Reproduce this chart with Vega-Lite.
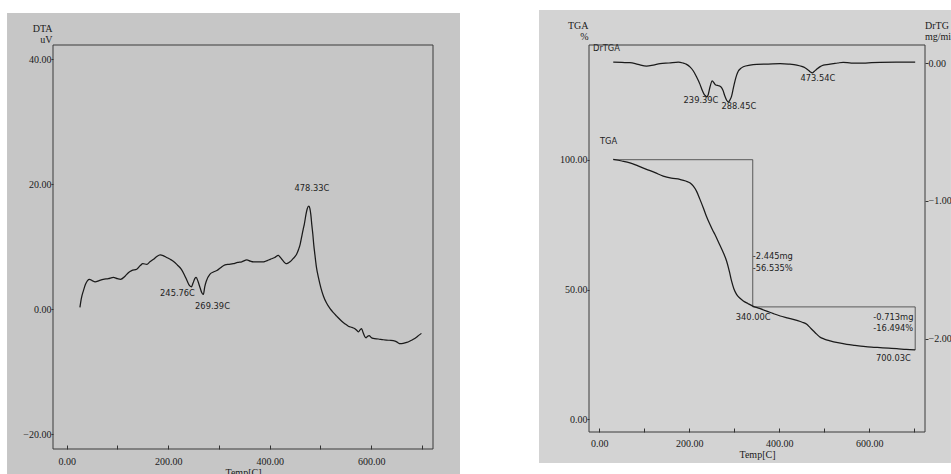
{
  "$schema": "https://vega.github.io/schema/vega-lite/v6.json",
  "background": "white",
  "padding": {"left": 7, "top": 9, "right": 0, "bottom": -3},
  "spacing": 156,
  "bounds": "flush",
  "config": {
    "view": {"stroke": null},
    "axis": {
      "labelFont": "Liberation Serif", "labelFontSize": 10, "labelColor": "#1a1a1a",
      "titleFont": "Liberation Serif", "titleFontSize": 10, "titleFontWeight": "normal", "titleColor": "#1a1a1a",
      "tickColor": "#333333", "domain": false, "grid": false,
      "labelOverlap": false, "labelFlush": false
    },
    "text": {"font": "DejaVu Sans", "fontSize": 8.3, "color": "#1e1e1e"}
  },
  "datasets": {
    "paperL": [{"x1": -117.6, "x2": 775.0, "y1": -26.5, "y2": 47.4}],
    "frameL": [{"x1": -27.0, "x2": 721.8, "y1": -22.35, "y2": 42.29}],
    "paperR": [{"x1": -134, "x2": 781.4, "y1": -16.8, "y2": 157.7}],
    "frameR": [{"x1": -22.9, "x2": 723.8, "y1": -4.89, "y2": 144.18}],
    "dta": [
      {"T":26,"v":0.3},{"T":29,"v":1.8},{"T":33,"v":3.0},{"T":37,"v":4.0},{"T":41,"v":4.6},{"T":45,"v":4.8},{"T":50,"v":4.6},{"T":56,"v":4.4},{"T":64,"v":4.6},{"T":72,"v":4.8},{"T":82,"v":4.9},{"T":92,"v":5.1},{"T":100,"v":4.9},{"T":106,"v":4.8},{"T":115,"v":5.3},{"T":122,"v":5.9},{"T":128,"v":6.2},{"T":138,"v":6.4},{"T":145,"v":7.0},{"T":150,"v":7.3},{"T":158,"v":7.2},{"T":164,"v":7.6},{"T":171,"v":8.0},{"T":177,"v":8.4},{"T":184,"v":8.7},{"T":190,"v":8.6},{"T":197,"v":8.3},{"T":204,"v":8.0},{"T":210,"v":7.7},{"T":218,"v":7.1},{"T":226,"v":6.4},{"T":232,"v":5.5},{"T":237,"v":4.6},{"T":241,"v":3.9},{"T":245.8,"v":3.6},{"T":249,"v":4.2},{"T":253,"v":5.0},{"T":255,"v":5.1},{"T":259,"v":4.4},{"T":263,"v":3.4},{"T":266,"v":2.7},{"T":269.4,"v":2.4},{"T":272,"v":3.6},{"T":275,"v":4.5},{"T":282,"v":5.6},{"T":290,"v":6.0},{"T":296,"v":6.2},{"T":304,"v":6.7},{"T":312,"v":7.1},{"T":320,"v":7.2},{"T":328,"v":7.3},{"T":337,"v":7.5},{"T":345,"v":7.6},{"T":355,"v":7.9},{"T":362,"v":7.7},{"T":368,"v":7.6},{"T":378,"v":7.6},{"T":388,"v":7.6},{"T":395,"v":7.8},{"T":401,"v":8.0},{"T":410,"v":8.3},{"T":417,"v":8.65},{"T":421,"v":8.3},{"T":424,"v":8.0},{"T":428,"v":7.6},{"T":432,"v":7.3},{"T":436,"v":7.4},{"T":440,"v":7.6},{"T":446,"v":8.1},{"T":453,"v":8.8},{"T":457,"v":9.6},{"T":460,"v":10.4},{"T":463,"v":11.6},{"T":466,"v":12.8},{"T":468,"v":13.5},{"T":471.5,"v":15.2},{"T":474,"v":16.1},{"T":477,"v":16.5},{"T":479,"v":16.2},{"T":481,"v":15.2},{"T":483,"v":13.5},{"T":485,"v":12.0},{"T":487,"v":10.2},{"T":489,"v":8.8},{"T":492,"v":6.8},{"T":496,"v":5.1},{"T":501,"v":3.4},{"T":506,"v":2.1},{"T":512,"v":1.0},{"T":519,"v":0.1},{"T":525,"v":-0.5},{"T":532,"v":-1.1},{"T":542,"v":-1.9},{"T":548,"v":-2.3},{"T":555,"v":-2.7},{"T":562,"v":-2.9},{"T":568,"v":-3.1},{"T":572,"v":-3.4},{"T":575,"v":-3.6},{"T":578,"v":-3.3},{"T":581,"v":-3.1},{"T":584,"v":-3.7},{"T":587,"v":-4.3},{"T":590,"v":-4.55},{"T":593,"v":-4.3},{"T":596,"v":-4.2},{"T":600,"v":-4.5},{"T":604,"v":-4.65},{"T":614,"v":-4.75},{"T":624,"v":-4.87},{"T":636,"v":-4.95},{"T":647,"v":-5.08},{"T":652,"v":-5.3},{"T":657,"v":-5.5},{"T":663,"v":-5.45},{"T":670,"v":-5.3},{"T":677,"v":-5.05},{"T":683,"v":-4.8},{"T":691,"v":-4.35},{"T":699,"v":-3.85}
    ],
    "notesL": [
      {"T": 483.3, "v": 19.2, "label": "478.33C"},
      {"T": 218.3, "v": 2.5, "label": "245.76C"},
      {"T": 287.3, "v": 0.42, "label": "269.39C"}
    ],
    "tga": [
      {"T":31,"v":100.1},{"T":50,"v":99.5},{"T":68,"v":98.8},{"T":86,"v":97.6},{"T":105,"v":96.3},{"T":124,"v":95.0},{"T":142,"v":93.7},{"T":160,"v":92.9},{"T":179,"v":92.4},{"T":192,"v":91.8},{"T":202,"v":91.0},{"T":209,"v":89.8},{"T":216,"v":87.9},{"T":223,"v":85.0},{"T":231,"v":81.5},{"T":238,"v":78.2},{"T":246,"v":75.0},{"T":252,"v":72.8},{"T":257,"v":71.2},{"T":265,"v":68.2},{"T":274,"v":64.8},{"T":283,"v":60.9},{"T":289,"v":57.0},{"T":294,"v":53.2},{"T":299,"v":50.3},{"T":305,"v":48.1},{"T":312,"v":46.7},{"T":320,"v":45.6},{"T":330,"v":44.6},{"T":341,"v":43.6},{"T":356,"v":42.7},{"T":372,"v":41.7},{"T":387,"v":40.7},{"T":402,"v":39.8},{"T":420,"v":39.0},{"T":439,"v":38.1},{"T":451,"v":37.4},{"T":461,"v":36.6},{"T":468,"v":35.4},{"T":476,"v":34.0},{"T":483,"v":32.8},{"T":490,"v":31.7},{"T":500,"v":30.9},{"T":513,"v":30.2},{"T":530,"v":29.5},{"T":550,"v":28.9},{"T":568,"v":28.5},{"T":587,"v":28.1},{"T":605,"v":27.8},{"T":624,"v":27.6},{"T":643,"v":27.4},{"T":661,"v":27.2},{"T":682,"v":26.9},{"T":702,"v":26.7}
    ],
    "steps": [
      {"i": 1, "T": 31, "v": 100},
      {"i": 2, "T": 341, "v": 100},
      {"i": 3, "T": 341, "v": 43.3},
      {"i": 4, "T": 702, "v": 43.3},
      {"i": 5, "T": 702, "v": 26.7}
    ],
    "drtga": [
      {"T":31,"d":0.007},{"T":50,"d":0.004},{"T":68,"d":0.002},{"T":86,"d":-0.01},{"T":105,"d":-0.022},{"T":120,"d":-0.015},{"T":135,"d":-0.005},{"T":155,"d":0.0},{"T":175.6,"d":0.007},{"T":186,"d":0.0},{"T":194,"d":-0.01},{"T":202,"d":-0.03},{"T":209,"d":-0.058},{"T":216,"d":-0.1},{"T":223.8,"d":-0.155},{"T":229,"d":-0.2},{"T":233,"d":-0.227},{"T":236,"d":-0.238},{"T":239.4,"d":-0.245},{"T":242,"d":-0.23},{"T":246,"d":-0.174},{"T":251,"d":-0.13},{"T":255,"d":-0.145},{"T":259,"d":-0.16},{"T":265,"d":-0.165},{"T":270,"d":-0.172},{"T":275,"d":-0.2},{"T":279,"d":-0.24},{"T":283,"d":-0.27},{"T":287,"d":-0.283},{"T":290,"d":-0.27},{"T":294,"d":-0.24},{"T":298,"d":-0.18},{"T":301.6,"d":-0.13},{"T":305,"d":-0.09},{"T":309,"d":-0.058},{"T":314,"d":-0.04},{"T":320,"d":-0.027},{"T":335,"d":-0.015},{"T":350,"d":-0.01},{"T":375,"d":-0.008},{"T":402,"d":-0.005},{"T":420,"d":-0.008},{"T":439,"d":-0.015},{"T":450,"d":-0.025},{"T":457,"d":-0.034},{"T":464,"d":-0.05},{"T":469,"d":-0.065},{"T":473.5,"d":-0.072},{"T":478,"d":-0.06},{"T":483,"d":-0.046},{"T":490,"d":-0.028},{"T":498,"d":-0.015},{"T":510,"d":-0.01},{"T":520,"d":-0.005},{"T":530,"d":0.0},{"T":542,"d":0.005},{"T":560,"d":0.0},{"T":587,"d":0.0},{"T":605,"d":0.003},{"T":624,"d":0.005},{"T":660,"d":0.006},{"T":702,"d":0.007}
    ],
    "notesRc": [
      {"T": 226, "v": 122.6, "label": "239.39C"},
      {"T": 310, "v": 120.3, "label": "288.45C"},
      {"T": 485.6, "v": 131.2, "label": "473.54C"},
      {"T": 342, "v": 39.1, "label": "340.00C"},
      {"T": 653.4, "v": 23.3, "label": "700.03C"}
    ],
    "notesRl": [
      {"T": -14, "v": 142.8, "label": "DrTGA"},
      {"T": 1.6, "v": 106.7, "label": "TGA"},
      {"T": 341, "v": 62.5, "label": "-2.445mg"},
      {"T": 341, "v": 58.0, "label": "-56.535%"},
      {"T": 609, "v": 38.9, "label": "-0.713mg"},
      {"T": 609, "v": 34.7, "label": "-16.494%"}
    ],
    "drTitle": [
      {"T": 723.8, "v": 150.3, "label": "DrTGA"},
      {"T": 723.8, "v": 146.1, "label": "mg/min"}
    ]
  },
  "hconcat": [
    {
      "width": 380,
      "height": 404,
      "layer": [
        {
          "data": {"name": "paperL"},
          "mark": {"type": "rect", "color": "#c6c6c6"},
          "encoding": {
            "x": {"field": "x1", "type": "quantitative", "scale": {"domain": [-27.0, 721.8], "nice": false, "zero": false},
              "axis": {"values": [0,50,100,150,200,250,300,350,400,450,500,550,600,650,700],
                "labelExpr": "datum.value % 200 === 0 ? format(datum.value, '.2f') : ''",
                "tickSize": -4, "labelPadding": 11.4, "title": "Temp[C]", "titlePadding": 1, "zindex": 1}},
            "x2": {"field": "x2"},
            "y": {"field": "y1", "type": "quantitative", "scale": {"domain": [-22.35, 42.29], "nice": false, "zero": false},
              "axis": {"values": [-20, 0, 20, 40], "format": ".2f", "tickSize": 2, "labelPadding": 0,
                "title": ["DTA", "uV"], "titleAngle": 0, "titleAlign": "right", "titleBaseline": "alphabetic",
                "titleX": -1, "titleY": -14, "titleLineHeight": 11, "zindex": 1}},
            "y2": {"field": "y2"}
          }
        },
        {
          "data": {"name": "dta"},
          "mark": {"type": "line", "color": "#1a1a1a", "strokeWidth": 1.25, "interpolate": "monotone"},
          "encoding": {
            "x": {"field": "T", "type": "quantitative"},
            "y": {"field": "v", "type": "quantitative"}
          }
        },
        {
          "data": {"name": "notesL"},
          "mark": {"type": "text", "align": "center", "baseline": "middle"},
          "encoding": {
            "x": {"field": "T", "type": "quantitative"},
            "y": {"field": "v", "type": "quantitative"},
            "text": {"field": "label"}
          }
        },
        {
          "data": {"name": "frameL"},
          "mark": {"type": "rect", "filled": false, "stroke": "#3a3a3a", "strokeWidth": 1},
          "encoding": {
            "x": {"field": "x1", "type": "quantitative"},
            "x2": {"field": "x2"},
            "y": {"field": "y1", "type": "quantitative"},
            "y2": {"field": "y2"}
          }
        }
      ]
    },
    {
      "width": 336,
      "height": 387,
      "resolve": {"scale": {"y": "independent"}},
      "layer": [
        {
          "layer": [
            {
              "data": {"name": "paperR"},
              "mark": {"type": "rect", "color": "#d3d3d3"},
              "encoding": {
                "x": {"field": "x1", "type": "quantitative", "scale": {"domain": [-22.9, 723.8], "nice": false, "zero": false},
                  "axis": {"values": [0,50,100,150,200,250,300,350,400,450,500,550,600,650,700],
                    "labelExpr": "datum.value % 200 === 0 ? format(datum.value, '.2f') : ''",
                    "tickSize": -4, "labelPadding": 10.7, "title": "Temp[C]", "titlePadding": 0.5, "zindex": 1}},
                "x2": {"field": "x2"},
                "y": {"field": "y1", "type": "quantitative", "scale": {"domain": [-4.89, 144.18], "nice": false, "zero": false},
                  "axis": {"values": [0, 50, 100], "format": ".2f", "tickSize": 2, "labelPadding": 0,
                    "title": ["TGA", "%"], "titleAngle": 0, "titleAlign": "right", "titleBaseline": "alphabetic",
                    "titleX": -1, "titleY": -17, "titleLineHeight": 11, "zindex": 1}},
                "y2": {"field": "y2"}
              }
            },
            {
              "data": {"name": "steps"},
              "mark": {"type": "line", "color": "#3a3a3a", "strokeWidth": 0.8},
              "encoding": {
                "x": {"field": "T", "type": "quantitative"},
                "y": {"field": "v", "type": "quantitative"},
                "order": {"field": "i", "type": "quantitative"}
              }
            },
            {
              "data": {"name": "tga"},
              "mark": {"type": "line", "color": "#1a1a1a", "strokeWidth": 1.25, "interpolate": "monotone"},
              "encoding": {
                "x": {"field": "T", "type": "quantitative"},
                "y": {"field": "v", "type": "quantitative"}
              }
            },
            {
              "data": {"name": "notesRc"},
              "mark": {"type": "text", "align": "center", "baseline": "middle"},
              "encoding": {
                "x": {"field": "T", "type": "quantitative"},
                "y": {"field": "v", "type": "quantitative"},
                "text": {"field": "label"}
              }
            },
            {
              "data": {"name": "notesRl"},
              "mark": {"type": "text", "align": "left", "baseline": "middle"},
              "encoding": {
                "x": {"field": "T", "type": "quantitative"},
                "y": {"field": "v", "type": "quantitative"},
                "text": {"field": "label"}
              }
            },
            {
              "data": {"name": "drTitle"},
              "mark": {"type": "text", "align": "left", "baseline": "alphabetic", "font": "Liberation Serif", "fontSize": 10, "color": "#1a1a1a", "limit": 27, "ellipsis": "\u200b"},
              "encoding": {
                "x": {"field": "T", "type": "quantitative"},
                "y": {"field": "v", "type": "quantitative"},
                "text": {"field": "label"}
              }
            },
            {
              "data": {"name": "frameR"},
              "mark": {"type": "rect", "filled": false, "stroke": "#3a3a3a", "strokeWidth": 1},
              "encoding": {
                "x": {"field": "x1", "type": "quantitative"},
                "x2": {"field": "x2"},
                "y": {"field": "y1", "type": "quantitative"},
                "y2": {"field": "y2"}
              }
            }
          ]
        },
        {
          "data": {"name": "drtga"},
          "mark": {"type": "line", "color": "#1a1a1a", "strokeWidth": 1.25, "interpolate": "monotone"},
          "encoding": {
            "x": {"field": "T", "type": "quantitative"},
            "y": {"field": "d", "type": "quantitative", "scale": {"domain": [-2.677, 0.1306], "nice": false, "zero": false},
              "axis": {"orient": "right", "values": [-2, -1, 0], "format": ".2f", "tickSize": 3, "labelPadding": 0, "title": null, "zindex": 1}}
          }
        }
      ]
    }
  ]
}
